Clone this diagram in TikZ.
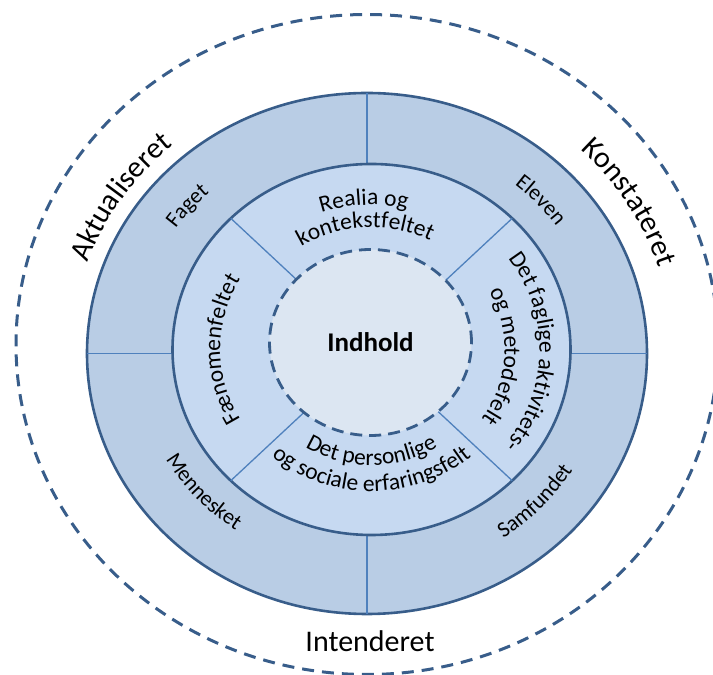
\documentclass[tikz,border=0pt]{standalone}
\usepackage{fontspec}
\setmainfont{Carlito}
\usetikzlibrary{decorations.text}
\definecolor{ringblue}{HTML}{B9CDE5}
\definecolor{bandblue}{HTML}{C6D9F1}
\definecolor{coreblue}{HTML}{DCE6F2}
\definecolor{edgeblue}{HTML}{385D8A}
\definecolor{splitblue}{HTML}{4F81BD}
\newcommand{\lbl}{\fontsize{22bp}{26bp}\selectfont}
\newcommand{\bandlbl}{\fontsize{23.5bp}{27bp}\selectfont}
\newcommand{\outerlbl}{\fontsize{30bp}{34bp}\selectfont}
\tikzset{
  edge/.style={edgeblue,line width=2.6bp},
  split/.style={splitblue,line width=1.3bp},
  dashring/.style={edgeblue,line width=3bp,dash pattern=on 12bp off 8bp},
  curved/.style={decorate,decoration={text along path,text align=center,text={#1}}},
}

\begin{document}
\begin{tikzpicture}[x=1bp,y=1bp]
\useasboundingbox (0,0) rectangle (713,675);
\coordinate (c0) at (367,321.5);   % ring
\coordinate (c1) at (371.5,325.5); % band
\coordinate (c2) at (370.5,332.5); % core
\coordinate (c3) at (367,330.5);   % outer dashes

% rings
\draw[dashring] (c3) ellipse[x radius=351,y radius=330];
\filldraw[edge,fill=ringblue] (c0) ellipse[x radius=280,y radius=260.5];
\draw[split] (367,511)--(367,582) (367,140)--(367,61)
  (87,321.5)--(172.5,321.5) (570.5,321.5)--(647,321.5);
\filldraw[edge,fill=bandblue] (c1) ellipse[x radius=199,y radius=185.5];
\draw[split] (c1)--+(45:199 and 185.5) (c1)--+(135:199 and 185.5)
  (c1)--+(225:199 and 185.5) (c1)--+(315:199 and 185.5);
\fill[coreblue] (c2) ellipse[x radius=101,y radius=93];
\draw[dashring,line width=2.8bp,dash pattern=on 12bp off 7bp] (c2) ellipse[x radius=101,y radius=93];
\node (core) at (c2) {\fontsize{27bp}{30bp}\selectfont\bfseries Indhold};

% band
\path[curved={|\bandlbl|Realia og}] (c1) ++(163:155 and 144.5)
  arc[start angle=163,end angle=23,x radius=155,y radius=144.5];
\path[curved={|\bandlbl|kontekstfeltet}] (c1) ++(163:131 and 122)
  arc[start angle=163,end angle=23,x radius=131,y radius=122];
\path[curved={|\bandlbl|Det personlige}] (c1) ++(200:124 and 115.6)
  arc[start angle=200,end angle=340,x radius=124,y radius=115.6];
\path[curved={|\bandlbl|og sociale erfaringsfelt}] (c1) ++(195:152 and 141.7)
  arc[start angle=195,end angle=345,x radius=152,y radius=141.7];
\path[curved={|\bandlbl|Fænomenfeltet}] (c1) ++(250:151.3 and 141)
  arc[start angle=250,end angle=110,x radius=151.3,y radius=141];
\path[curved={|\bandlbl|Det faglige aktivitets-}] (c1) ++(69:168 and 156.6)
  arc[start angle=69,end angle=-71,x radius=168,y radius=156.6];
\path[curved={|\bandlbl|og metodefelt}] (c1) ++(57:133 and 124)
  arc[start angle=57,end angle=-63,x radius=133,y radius=124];

% ring
\path[curved={|\lbl|Faget}] (c0) ++(164:233.8 and 217.5)
  arc[start angle=164,end angle=114,x radius=233.8,y radius=217.5];
\path[curved={|\lbl|Eleven}] (c0) ++(68:233.8 and 217.5)
  arc[start angle=68,end angle=18,x radius=233.8,y radius=217.5];
\path[curved={|\lbl|Mennesket}] (c0) ++(192:231 and 214.9)
  arc[start angle=192,end angle=252,x radius=231,y radius=214.9];
\path[curved={|\lbl|Samfundet}] (c0) ++(287:240.8 and 224)
  arc[start angle=287,end angle=347,x radius=240.8,y radius=224];

% outside
\path[curved={|\outerlbl|Aktualiseret}] (c0) ++(186.5:296 and 275.3)
  arc[start angle=186.5,end angle=106.5,x radius=296,y radius=275.3];
\path[curved={|\outerlbl|Konstateret}] (c0) ++(71:306 and 285)
  arc[start angle=71,end angle=-9,x radius=306,y radius=285];
\node[anchor=base] (intend) at (370,23) {\outerlbl Intenderet};
\end{tikzpicture}
\end{document}
